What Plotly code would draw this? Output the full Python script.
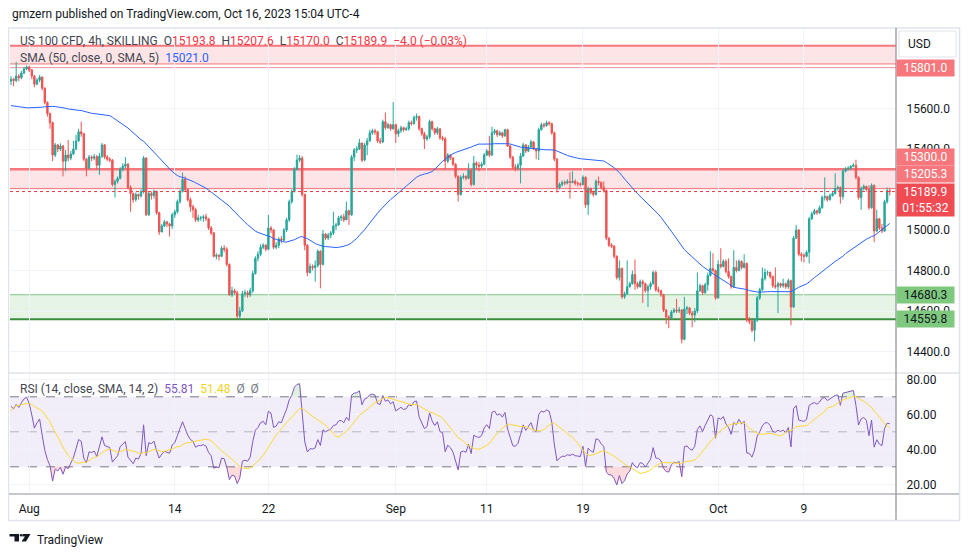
import plotly.graph_objects as go

# ---------------- data ----------------
first_open = 15735.0
closes = [
15745,15738,15760,15752,15775,15795,15805,15790,15760,15720,15740,15755,15700,15630,15575,15530,15370,15420,15400,15415,
15340,15370,15355,15375,15400,15440,15485,15475,15350,15305,15360,15355,15362,15320,15365,15420,15360,15350,15345,15225,
15240,15255,15300,15315,15325,15210,15180,15150,15175,15168,15190,15355,15075,15180,15170,15190,15085,14990,15020,15040,
15030,15020,15075,15090,15140,15190,15250,15200,15150,15115,15100,15050,15060,15060,15065,15055,15010,14985,14870,14875,
14870,14910,14905,14830,14680,14700,14690,14575,14600,14685,14690,14680,14700,14785,14860,14880,14915,14925,14905,15010,
15000,14915,14925,14955,14950,15000,15050,15140,15190,15300,15345,15355,15175,14925,14790,14820,14815,14825,14895,14830,
14980,14960,14975,14985,15020,15025,15060,15065,15050,15095,15075,15360,15395,15400,15430,15345,15420,15440,15480,15490,
15485,15440,15435,15535,15505,15520,15500,15520,15475,15490,15505,15495,15500,15530,15525,15555,15560,15500,15475,15450,
15460,15535,15500,15480,15500,15455,15450,15340,15370,15355,15325,15265,15175,15260,15265,15255,15295,15225,15330,15320,
15315,15325,15370,15390,15370,15480,15490,15470,15480,15465,15495,15415,15360,15310,15305,15320,15365,15420,15390,15410,
15435,15400,15390,15495,15520,15515,15530,15525,15480,15350,15210,15225,15235,15232,15240,15235,15240,15230,15228,15225,
15260,15125,15205,15185,15175,15240,15235,15210,15195,14960,14925,14920,14870,14765,14810,14670,14685,14720,14735,14780,
14735,14720,14745,14735,14700,14720,14735,14790,14705,14700,14680,14605,14570,14565,14595,14605,14600,14605,14460,14610,
14615,14590,14580,14600,14700,14725,14690,14730,14775,14810,14800,14665,14830,14820,14845,14795,14770,14720,14815,14800,
14845,14815,14835,14555,14550,14505,14555,14665,14705,14760,14790,14790,14770,14725,14720,14735,14725,14735,14720,14750,
14620,14960,15000,14880,14875,14870,14890,15055,15080,15095,15085,15110,15160,15165,15150,15170,15180,15205,15210,15165,
15290,15300,15305,15315,15320,15260,15160,15205,15215,15200,15110,15220,14995,15055,15010,14995,15140,15193.8,15189.9]
highs = [
15760,15752,15830,15770,15785,15805,15812,15812,15795,15765,15750,15765,15758,15705,15635,15580,15535,15430,15425,15428,
15420,15395,15445,15390,15440,15470,15500,15535,15480,15355,15370,15368,15375,15370,15380,15430,15425,15370,15360,15350,
15250,15265,15310,15330,15360,15330,15220,15185,15185,15180,15200,15365,15360,15190,15190,15200,15195,15090,15030,15050,
15045,15035,15085,15100,15150,15200,15283,15265,15205,15160,15125,15110,15075,15070,15075,15080,15060,15020,14990,14885,
14880,14920,14925,14915,14835,14720,14710,14700,14620,14700,14705,14700,14715,14800,14870,14895,14930,14935,14930,15075,
15020,15005,14940,14965,14970,15010,15060,15150,15200,15310,15372,15370,15365,15180,14930,14835,14830,14850,14905,14900,
15000,14985,14985,14995,15090,15035,15070,15075,15080,15140,15100,15370,15405,15415,15450,15430,15430,15455,15495,15500,
15500,15490,15455,15545,15580,15530,15525,15632,15525,15500,15515,15510,15510,15540,15540,15565,15575,15565,15505,15485,
15470,15545,15540,15505,15510,15500,15465,15460,15380,15375,15360,15330,15270,15270,15280,15270,15330,15300,15365,15340,
15335,15335,15380,15400,15465,15510,15500,15495,15490,15485,15500,15500,15420,15365,15325,15330,15380,15430,15425,15420,
15445,15440,15405,15505,15530,15530,15540,15537,15530,15485,15355,15235,15245,15245,15250,15285,15290,15250,15240,15235,
15270,15265,15215,15210,15195,15250,15264,15240,15240,15200,14965,14935,14925,14875,14850,14815,14695,14850,14745,14800,
14855,14745,14755,14755,14740,14730,14745,14800,14800,14720,14705,14685,14610,14580,14605,14615,14660,14620,14610,14670,
14625,14620,14600,14615,14790,14735,14730,14740,14790,14895,14885,14805,14850,14910,14855,14855,14860,14775,14900,14850,
14855,14850,14880,14840,14570,14560,14565,14675,14715,14815,14810,14800,14795,14775,14815,14745,14740,14760,14740,14760,
14755,14970,15025,15005,14890,14885,14900,15065,15090,15105,15100,15120,15170,15260,15170,15180,15190,15280,15220,15215,
15300,15310,15315,15320,15330,15347,15265,15215,15225,15220,15220,15230,15225,15100,15060,15030,15150,15210,15207.6]
lows = [
15715,15710,15730,15735,15745,15770,15790,15780,15745,15705,15715,15730,15690,15620,15560,15500,15340,15360,15385,15390,
15265,15290,15340,15345,15370,15395,15435,15460,15340,15265,15300,15340,15345,15300,15272,15355,15350,15340,15335,15215,
15160,15230,15250,15290,15305,15200,15090,15135,15140,15150,15160,15180,15070,15070,15150,15155,15075,14975,14990,15015,
15015,14968,15005,15060,15080,15130,15185,15190,15140,15090,15060,15040,15040,15045,15040,15045,15000,14975,14865,14855,
14850,14865,14890,14820,14675,14670,14680,14560,14557,14595,14670,14665,14670,14690,14780,14845,14870,14905,14895,14900,
14985,14905,14905,14910,14935,14945,14990,15040,15130,15185,15295,15335,15165,14900,14772,14785,14800,14745,14815,14712,
14825,14950,14950,14960,14975,15000,15020,15045,15040,15050,15025,15070,15340,15380,15395,15335,15340,15370,15435,15470,
15470,15430,15425,15430,15495,15500,15490,15495,15430,15460,15480,15485,15490,15490,15515,15520,15540,15490,15465,15400,
15440,15450,15490,15470,15470,15445,15440,15300,15330,15345,15315,15255,15140,15170,15250,15245,15250,15215,15220,15300,
15290,15305,15320,15365,15360,15365,15470,15460,15465,15455,15460,15410,15350,15300,15290,15295,15230,15360,15380,15385,
15405,15395,15350,15345,15490,15505,15510,15515,15470,15340,15185,15200,15215,15220,15225,15155,15230,15220,15215,15215,
15220,15110,15075,15175,15165,15170,15220,15200,15185,14950,14915,14910,14860,14755,14750,14660,14660,14680,14715,14730,
14705,14710,14715,14640,14690,14620,14705,14730,14695,14690,14670,14595,14535,14515,14560,14590,14590,14590,14440,14455,
14585,14580,14520,14545,14590,14695,14680,14685,14700,14770,14790,14655,14660,14810,14815,14785,14760,14710,14715,14790,
14795,14805,14810,14545,14535,14495,14450,14545,14655,14700,14750,14775,14760,14715,14710,14590,14715,14715,14710,14710,
14530,14615,14955,14870,14845,14840,14865,14835,15050,15075,15075,15080,15105,15145,15140,15145,15165,15175,15195,15130,
15150,15285,15295,15300,15310,15250,15150,15100,15195,15190,15100,15105,14940,14990,15000,14985,14990,15130,15170.0]
# estimated closes of the 49 candles before the visible window (warm-up of SMA 50 / RSI 14)
closes_before = [
15860,15880,15870,15890,15850,15820,15790,15760,15740,15720,15730,
15570,15530,15490,15460,15440,15450,15470,15480,15510,15500,15520,15490,15510,15530,15505,
15520,15540,15580,15500,15450,15430,15410,15400,15420,15440,15436,
15560,15620,15680,15700,15720,15740,15730,15750,15760,15740,15735,15750]

tick_idx = [7, 63, 99, 148, 183, 220, 272, 305]
tick_text = ["Aug", "14", "22", "Sep", "11", "19", "Oct", "9"]
price_ticks = [14400, 14600, 14800, 15000, 15200, 15400, 15600, 15800]
price_tick_text = ["14400.0", "14600.0", "14800.0", "15000.0", "", "15400.0", "15600.0", ""]
rsi_ticks = [20, 40, 60, 80]

top_zone = (15820.0, 15910.0)
top_line = 15801.0
res_zone = (15205.3, 15300.0)
sup_zone = (14559.8, 14680.3)
last_price = 15189.9

# ---------------- indicators ----------------
idx = list(range(len(closes)))
opens = [first_open] + closes[:-1]
all_c = closes_before + closes
npre = len(closes_before)
sma = [sum(all_c[k - 49:k + 1]) / 50 for k in range(npre, len(all_c))]

L = 14
g = [max(all_c[k] - all_c[k - 1], 0) for k in range(1, len(all_c))]
lo = [max(all_c[k - 1] - all_c[k], 0) for k in range(1, len(all_c))]
rsi_all = [None] * len(all_c)
ag = sum(g[:L]) / L
al = sum(lo[:L]) / L
rsi_all[L] = 100 - 100 / (1 + ag / al) if al else 100
for k in range(L + 1, len(all_c)):
    ag = (ag * (L - 1) + g[k - 1]) / L
    al = (al * (L - 1) + lo[k - 1]) / L
    rsi_all[k] = 100 - 100 / (1 + ag / al) if al else 100
ma_all = [None] * len(all_c)
for k in range(L + 13, len(all_c)):
    ma_all[k] = sum(rsi_all[k - 13:k + 1]) / 14
rsi = rsi_all[npre:]
rsi_ma = ma_all[npre:]

# ---------------- geometry (reference-pixel coords; page body adds an 8px offset) ----------------
OFF = 8
W, H = 970 - OFF, 557 - OFF
PL, PR, PT, PB = 10, 896, 28, 494
def px(x):
    return (x - PL) / (PR - PL)
def py(y):
    return (PB - y) / (PB - PT)
SPLIT = py(373)

UP, DN = "#26a69a", "#ef5350"
FONT = "Roboto, Arial, sans-serif"
TXT = "#131722"
LEG = "#434651"

fig = go.Figure()
fig.add_trace(go.Candlestick(
    x=idx, open=opens, high=highs, low=lows, close=closes,
    increasing=dict(line=dict(color=UP, width=1), fillcolor=UP),
    decreasing=dict(line=dict(color=DN, width=1), fillcolor=DN),
    whiskerwidth=0, xaxis="x", yaxis="y", showlegend=False, hoverinfo="skip"))
fig.add_trace(go.Scatter(x=idx, y=sma, mode="lines", line=dict(color="#2962ff", width=1),
                         xaxis="x", yaxis="y", showlegend=False, hoverinfo="skip"))

# RSI pane
fig.add_trace(go.Scatter(x=idx, y=[70] * len(idx), mode="lines", line=dict(width=0),
                         xaxis="x", yaxis="y2", showlegend=False, hoverinfo="skip"))
fig.add_trace(go.Scatter(x=idx, y=[max(r, 70) for r in rsi], mode="lines", line=dict(width=0),
                         fill="tonexty", fillcolor="rgba(76,175,80,0.18)",
                         xaxis="x", yaxis="y2", showlegend=False, hoverinfo="skip"))
fig.add_trace(go.Scatter(x=idx, y=[30] * len(idx), mode="lines", line=dict(width=0),
                         xaxis="x", yaxis="y2", showlegend=False, hoverinfo="skip"))
fig.add_trace(go.Scatter(x=idx, y=[min(r, 30) for r in rsi], mode="lines", line=dict(width=0),
                         fill="tonexty", fillcolor="rgba(242,54,69,0.18)",
                         xaxis="x", yaxis="y2", showlegend=False, hoverinfo="skip"))
fig.add_trace(go.Scatter(x=idx, y=rsi, mode="lines", line=dict(color="#7e57c2", width=1),
                         xaxis="x", yaxis="y2", showlegend=False, hoverinfo="skip"))
fig.add_trace(go.Scatter(x=idx, y=rsi_ma, mode="lines", line=dict(color="#fdd835", width=1),
                         xaxis="x", yaxis="y2", showlegend=False, hoverinfo="skip"))

shapes = []
def hline(y, color, width=1, dash="solid", yref="y", layer="below"):
    shapes.append(dict(type="line", xref="paper", x0=0, x1=1, yref=yref, y0=y, y1=y,
                       line=dict(color=color, width=width, dash=dash), layer=layer))
def band(y0, y1, fill, yref="y"):
    shapes.append(dict(type="rect", xref="paper", x0=0, x1=1, yref=yref, y0=y0, y1=y1,
                       fillcolor=fill, line=dict(width=0), layer="below"))

band(top_zone[0], top_zone[1], "rgba(242,54,69,0.13)")
hline(top_zone[1], "#f7777c", 2)
hline(top_zone[0], "#f7777c", 1)
hline(top_line, "#f7777c", 1)
band(res_zone[0], res_zone[1], "rgba(242,54,69,0.13)")
hline(res_zone[1], "#f7777c", 2.5)
hline(res_zone[0], "#f7777c", 1)
hline(last_price, "#f23645", 1, "dot", layer="above")
band(sup_zone[0], sup_zone[1], "rgba(76,175,80,0.14)")
hline(sup_zone[1], "#81c784", 1)
hline(sup_zone[0], "#388e3c", 2)

band(30, 70, "rgba(126,87,194,0.10)", yref="y2")
hline(70, "#787b86", 1, "dash", yref="y2")
hline(50, "rgba(120,123,134,0.5)", 1, "dash", yref="y2")
hline(30, "#787b86", 1, "dash", yref="y2")

# frame, separators, axis lines
shapes.append(dict(type="rect", xref="paper", yref="paper", x0=px(8.5), x1=px(959.5), y0=py(520.5), y1=py(28),
                   line=dict(color="#e0e3eb", width=1.5), fillcolor="rgba(0,0,0,0)", layer="above"))
shapes.append(dict(type="line", xref="paper", yref="paper", x0=px(9), x1=px(959), y0=SPLIT, y1=SPLIT,
                   line=dict(color="#e0e3eb", width=1.5), layer="above"))
shapes.append(dict(type="line", xref="paper", yref="paper", x0=px(9), x1=px(959), y0=0, y1=0,
                   line=dict(color="#8c8f99", width=1.2), layer="above"))
shapes.append(dict(type="line", xref="paper", yref="paper", x0=1, x1=1, y0=py(520), y1=py(28),
                   line=dict(color="#8c8f99", width=1.2), layer="above"))
# USD box
shapes.append(dict(type="rect", xref="paper", yref="paper", x0=px(899), x1=px(956), y0=py(57), y1=py(31),
                   line=dict(color="#e0e3eb", width=1), fillcolor="white", layer="above"))
# TradingView logo (simple)
shapes.append(dict(type="rect", xref="paper", yref="paper", x0=px(9.5), x1=px(19), y0=py(536.5), y1=py(534),
                   line=dict(width=0), fillcolor="#131722"))
shapes.append(dict(type="rect", xref="paper", yref="paper", x0=px(14.5), x1=px(19), y0=py(541.5), y1=py(534),
                   line=dict(width=0), fillcolor="#131722"))
shapes.append(dict(type="circle", xref="paper", yref="paper", x0=px(19.8), x1=px(22.4), y0=py(536.6), y1=py(534),
                   line=dict(width=0), fillcolor="#131722"))
shapes.append(dict(type="path", xref="paper", yref="paper",
                   path=f"M {px(22.5)},{py(534)} L {px(30.5)},{py(534)} L {px(26)},{py(541.5)} L {px(21.5)},{py(541.5)} L {px(25)},{py(536.5)} L {px(22.5)},{py(536.5)} Z",
                   line=dict(width=0), fillcolor="#131722"))

ann = []
def text(x, y, t, size=12, color=TXT, anchor="left"):
    ann.append(dict(xref="paper", yref="paper", x=px(x), y=py(y), text=t, showarrow=False,
                    xanchor=anchor, yanchor="middle", font=dict(family=FONT, size=size, color=color)))

RED = "#f23645"
SP = "\u00a0 "
text(10, 14, "gmzern published on TradingView.com, Oct 16, 2023 15:04 UTC-4", 12, TXT)
text(18, 41, ("US 100 CFD, 4h, SKILLING" + SP + "O<span style='color:%s'>15193.8</span>" + SP + "H<span style='color:%s'>15207.6</span>"
              + SP + "L<span style='color:%s'>15170.0</span>" + SP + "C<span style='color:%s'>15189.9</span>" + SP
              + "<span style='color:%s'>\u22124.0\u00a0(\u22120.03%%)</span>") % (RED, RED, RED, RED, RED), 12, LEG)
text(18, 58, "SMA (50, close, 0, SMA, 5)" + SP + "<span style='color:#2962ff'>15021.0</span>", 12, LEG)
text(18, 389, "RSI (14, close, SMA, 14, 2)" + SP + "<span style='color:#7e57c2'>55.81</span>" + SP
     + "<span style='color:#f2d51d'>51.48</span>" + SP + "<span style='color:#787b86'>\u00d8" + SP + "\u00d8</span>",
     12, LEG)
text(919, 44, "USD", 12, TXT, "center")
text(35, 540, "TradingView", 12, TXT)

def tag(price, label, bg, fg, yshift=0, yanchor="middle"):
    ann.append(dict(xref="paper", yref="y", x=px(896), y=price, yshift=yshift, text=label, showarrow=False,
                    xanchor="left", yanchor=yanchor, bgcolor=bg, width=55, borderpad=1, align="center",
                    font=dict(family=FONT, size=12, color=fg)))

tag(top_line, "15801.0", "#f7777c", "white")
tag(res_zone[1], "15300.0", "#f7777c", "white", yshift=12)
tag(res_zone[0], "15205.3", "#f7777c", "white", yshift=14)
tag(last_price, "15189.9<br>01:55:32", "#f04a52", "white", yshift=8.5, yanchor="top")
tag(sup_zone[1], "14680.3", "#7ec97e", TXT)
tag(sup_zone[0], "14559.8", "#7ec97e", TXT)

fig.update_layout(
    width=W, height=H, margin=dict(l=PL - OFF, r=W - (PR - OFF), t=PT - OFF, b=H - (PB - OFF)),
    paper_bgcolor="white", plot_bgcolor="white", showlegend=False, boxgap=0.25,
    font=dict(family=FONT, size=12, color=TXT),
    xaxis=dict(domain=[0, 1], anchor="y2", range=[-0.385, 340.4], tickvals=tick_idx, ticktext=tick_text,
               showgrid=True, gridcolor="#f0f3fa", zeroline=False, showline=False, ticks="outside",
               ticklen=4, tickcolor="rgba(0,0,0,0)", tickfont=dict(size=12, color=TXT),
               rangeslider=dict(visible=False), fixedrange=True),
    yaxis=dict(domain=[SPLIT, 1], anchor="x", side="right", range=[14293.9, 15997.5], tickvals=price_ticks,
               ticktext=price_tick_text, showgrid=True, gridcolor="#f0f3fa", zeroline=False, ticks="outside",
               ticklen=7, tickcolor="rgba(0,0,0,0)", tickfont=dict(size=12, color=TXT)),
    yaxis2=dict(domain=[0, SPLIT], anchor="x", side="right", range=[14.46, 83.6], tickvals=rsi_ticks,
                tickformat=".2f", showgrid=True, gridcolor="#f0f3fa", zeroline=False, ticks="outside",
                ticklen=7, tickcolor="rgba(0,0,0,0)", tickfont=dict(size=12, color=TXT)),
    shapes=shapes, annotations=ann,
)
fig.write_html("out.html")
